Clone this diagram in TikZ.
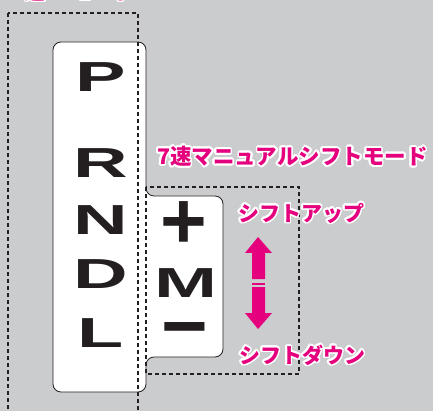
\documentclass[tikz,border=0pt]{standalone}
\usepackage{fontspec}
\usepackage{contour}
\setmainfont{Liberation Sans}
\newfontfamily\jpfont{Noto Sans CJK JP}
\newfontfamily\gatefont{Liberation Sans Bold}
\definecolor{shiftpink}{HTML}{E5007E}
\definecolor{panelgray}{HTML}{CBCCCE}
\definecolor{inkblack}{HTML}{231F20}
\contourlength{1.6pt}
\contournumber{32}
\tikzset{
  modebox/.style={draw=inkblack, line width=1.3pt, dash pattern=on 4pt off 3pt},
  gatelabel/.style={text=inkblack, inner sep=0pt, xscale=1.8, transform shape, font=\gatefont\fontsize{42}{42}\selectfont},
  signlabel/.style={text=inkblack, inner sep=0pt, font=\gatefont\fontsize{80}{80}\selectfont},
  pinklabel/.style={text=shiftpink, inner sep=0pt, anchor=west, font=\jpfont\bfseries\fontsize{21}{21}\selectfont},
}
\begin{document}
\begin{tikzpicture}[x=1pt, y=-1pt]
    \useasboundingbox (0,0) rectangle (433,411);
    \clip (0,0) rectangle (433,411);
    \fill[panelgray] (0,0) rectangle (433,411);

    % shift gate
    \draw[fill=white, draw=inkblack, line width=0.8pt, rounded corners=8pt]
        (53,42) -- (146,42) -- (146,196) -- (223,196) -- (223,357)
        -- (146,357) -- (146,392) -- (53,392) -- cycle;

    % mode frames
    \draw[modebox] (8,13) rectangle (138,430);
    \draw[modebox] (146,187) rectangle (299,374);

    \foreach \g/\y in {P/77, R/163, N/220, D/274, L/333}
        \node[gatelabel] (gate\g) at (101,\y) {\g};
    \node[signlabel] (gatePlus) at (184,225) {+};
    \node[gatelabel] (gateM) at (186,283) {M};
    \node[signlabel] (gateMinus) at (185,338) {−};

    % up/down arrow
    \fill[shiftpink] (258,237) -- (272,253) -- (265,253) -- (265,279)
        -- (252,279) -- (252,253) -- (245,253) -- cycle;
    \fill[shiftpink] (252,282.5) rectangle (265,285);
    \fill[shiftpink] (252,287) -- (265,287) -- (265,313) -- (272,313)
        -- (258,329) -- (245,313) -- (252,313) -- cycle;

    \node[pinklabel] (atmode) at (12,-8) {\contour{white}{7速ATモード}};
    \node[pinklabel, font=\jpfont\bfseries\fontsize{21.5}{21.5}\selectfont] (manualmode) at (157,157) {\contour{white}{7速マニュアルシフトモード}};
    \node[pinklabel] (shiftup) at (238,214) {\contour{white}{シフトアップ}};
    \node[pinklabel] (shiftdown) at (239,356) {\contour{white}{シフトダウン}};
\end{tikzpicture}
\end{document}
